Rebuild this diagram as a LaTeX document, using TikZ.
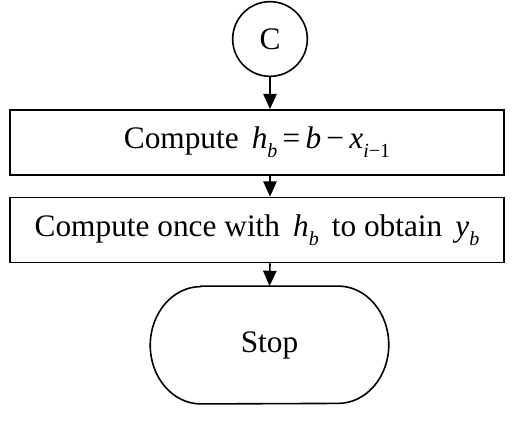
\documentclass[tikz,border=0pt]{standalone}
\usepackage{fontspec}
\setmainfont{Liberation Serif}
\usetikzlibrary{arrows.meta}
\newcommand{\vi}[1]{\textit{#1}}
\newcommand{\sbs}[1]{\raisebox{-0.6ex}{\fontsize{15}{15}\selectfont #1}}
\tikzset{
  px/.style={x=0.75pt,y=-0.75pt},
  line/.style={line width=1.2pt},
  arr/.style={line, -{Triangle[length=11.5pt,width=10pt]}},
  txt/.style={font=\fontsize{23.5}{26}\selectfont},
  boxnode/.style={line, draw, txt, minimum width=370.5pt, minimum height=48.75pt, inner sep=0pt},
  circ/.style={line, draw, txt, circle, minimum size=56pt, inner sep=0pt},
  stopnode/.style={txt, minimum width=178.5pt, minimum height=88pt, inner sep=0pt}
}
\begin{document}
\begin{tikzpicture}[px]
\useasboundingbox (0,0) rectangle (517,428);
\node[circ] (c) at (270,39) {C};
\node[boxnode] (b1) at (257,142.5) {Compute \,\vi{h}\sbs{\vi{b}}\,=\,\vi{b}\,−\,\vi{x}\sbs{\vi{i}−1}};
\node[boxnode] (b2) at (257,230) {Compute once with \,\vi{h}\sbs{\vi{b}}\,\ to obtain \,\vi{y}\sbs{\vi{b}}\hspace{4pt}};
\node[stopnode] (s) at (269.5,345) {Stop};
\draw[line] ([xshift=38pt]s.north west) -- ([xshift=-38pt]s.north east)
  arc[start angle=90, end angle=-90, x radius=38pt, y radius=44pt]
  -- ([xshift=38pt]s.south west)
  arc[start angle=270, end angle=90, x radius=38pt, y radius=44pt] -- cycle;
\draw[arr] (c.south) -- (c.south |- b1.north);
\draw[arr] (c.south |- b1.south) -- (c.south |- b2.north);
\draw[arr] (c.south |- b2.south) -- (s.north);
\end{tikzpicture}
\end{document}
